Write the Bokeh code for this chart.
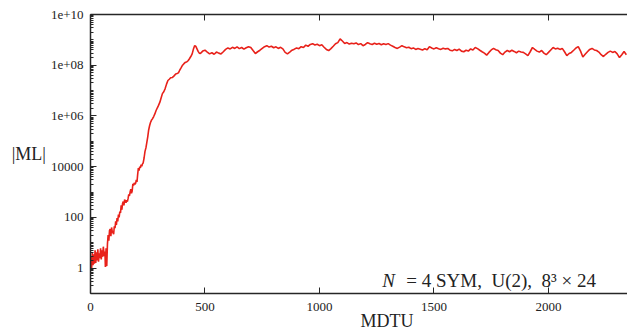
from bokeh.plotting import figure
from bokeh.models import Range1d, FixedTicker, LinearAxis, Label, Title
from bokeh.embed import file_html
from bokeh.resources import INLINE

# ---- data ----
early_mdtu = [
    0, 3, 5, 8, 11, 14, 17, 20, 23, 26,
    29, 32, 35, 38, 41, 44, 47, 50, 53, 56,
    60, 63, 65, 68, 71, 74, 77, 80, 83, 86,
    89, 92, 95, 98, 101, 104, 107, 110, 113, 116,
    119, 122, 125, 128, 131, 134, 137, 140, 143, 146,
    149, 152, 155, 158, 161, 164, 167, 170, 173, 176,
    179, 182, 185, 188, 191, 194, 197, 200, 203, 206,
    209, 212, 215, 218, 221, 224, 227, 230, 234, 238,
    242, 246, 250, 254, 258, 262, 267, 271, 276, 281,
    286, 292, 297, 303, 308, 314, 320, 326, 332, 338,
    344, 350, 358, 365, 372, 378, 384, 390, 396, 402,
    408, 414, 420, 426, 432, 438, 444, 450, 455, 460,
    465, 470, 475, 480,
]
early_ml = [
    0.8, 3.0, 1.0, 4.0, 1.3, 3.5, 1.5, 5.0, 1.6, 4.2,
    2.0, 5.5, 1.8, 3.8, 2.5, 6.0, 2.2, 5.0, 2.8, 7.0,
    3.0, 4.5, 1.1, 6.0, 1.2, 9.0, 20, 12, 30, 35,
    18, 40, 28, 25, 22, 45, 38, 70, 50, 95,
    70, 130, 100, 170, 150, 300, 200, 350, 420, 300,
    500, 450, 380, 480, 420, 550, 800, 700, 1000, 1300,
    900, 1100, 2100, 1800, 2300, 2000, 2200, 3000, 2500, 5000,
    8900, 7000, 1.0e4, 9000, 1.2e4, 1.05e4, 1.29e4, 1.4e4, 2.2e4, 4.0e4,
    5.5e4, 9.0e4, 1.5e5, 2.8e5, 4.1e5, 5.5e5, 7.0e5, 7.8e5, 9.5e5, 1.2e6,
    1.6e6, 2.1e6, 2.6e6, 3.5e6, 5.0e6, 7.6e6, 9.0e6, 1.2e7, 1.8e7, 2.5e7,
    2.8e7, 3.2e7, 3.3e7, 3.8e7, 4.5e7, 4.7e7, 5.0e7, 6.5e7, 8.0e7, 1.0e8,
    1.15e8, 1.3e8, 1.35e8, 1.5e8, 1.8e8, 2.2e8, 2.8e8, 4.5e8, 6.0e8, 5.5e8,
    4.4e8, 3.5e8, 3.0e8, 2.9e8,
]

plateau_mdtu = list(range(490, 2341, 10))
plateau_ml = [
    3.6e8, 3.9e8, 3.3e8, 2.8e8, 3.1e8, 2.7e8, 3.3e8, 3.0e8, 2.8e8, 3.4e8,
    4.2e8, 4.8e8, 4.4e8, 5.1e8, 4.6e8, 5.3e8, 4.5e8, 5.0e8, 4.3e8, 4.9e8,
    5.4e8, 5.0e8, 3.8e8, 2.9e8, 3.4e8, 3.9e8, 4.6e8, 5.4e8, 5.9e8, 5.2e8,
    5.6e8, 4.9e8, 5.3e8, 4.6e8, 5.1e8, 4.4e8, 3.2e8, 2.8e8, 3.3e8, 3.9e8,
    4.3e8, 4.8e8, 4.5e8, 5.4e8, 5.0e8, 6.2e8, 5.6e8, 6.6e8, 7.1e8, 6.3e8,
    6.7e8, 5.9e8, 6.4e8, 5.1e8, 4.2e8, 3.8e8, 4.5e8, 5.6e8, 7.0e8, 7.8e8,
    1.1e9, 9.0e8, 7.2e8, 7.8e8, 6.8e8, 7.4e8, 7.0e8, 7.6e8, 6.5e8, 7.1e8,
    5.9e8, 6.6e8, 7.8e8, 7.0e8, 6.6e8, 7.4e8, 6.7e8, 7.2e8, 6.4e8, 7.0e8,
    6.5e8, 7.1e8, 6.2e8, 5.6e8, 5.0e8, 4.6e8, 5.2e8, 5.9e8, 5.3e8, 4.9e8,
    5.1e8, 4.5e8, 4.8e8, 4.2e8, 4.6e8, 4.3e8, 4.0e8, 4.5e8, 4.1e8, 5.4e8,
    4.8e8, 4.4e8, 4.9e8, 4.5e8, 4.2e8, 4.7e8, 4.4e8, 4.6e8, 3.9e8, 3.7e8,
    4.2e8, 3.8e8, 4.3e8, 3.6e8, 3.4e8, 3.9e8, 3.6e8, 4.4e8, 4.0e8, 5.0e8,
    4.5e8, 3.9e8, 3.4e8, 3.0e8, 2.5e8, 3.2e8, 4.0e8, 4.6e8, 4.1e8, 3.8e8,
    3.0e8, 2.6e8, 3.3e8, 3.8e8, 3.4e8, 3.9e8, 3.5e8, 3.1e8, 3.6e8, 3.3e8,
    3.2e8, 2.8e8, 2.4e8, 3.4e8, 5.0e8, 4.2e8, 3.6e8, 3.3e8, 3.8e8, 3.0e8,
    2.6e8, 3.2e8, 4.0e8, 5.0e8, 4.4e8, 4.7e8, 4.2e8, 4.6e8, 3.4e8, 2.4e8,
    2.9e8, 3.2e8, 3.9e8, 4.8e8, 5.4e8, 3.6e8, 2.1e8, 2.7e8, 3.4e8, 4.2e8,
    4.6e8, 4.0e8, 3.8e8, 3.3e8, 2.6e8, 2.2e8, 2.7e8, 3.2e8, 3.6e8, 3.2e8,
    3.5e8, 2.8e8, 2.0e8, 2.6e8, 3.5e8, 2.6e8,
]

x_ticks = [0, 500, 1000, 1500, 2000]
y_ticks = [1, 100, 10000, 1000000, 100000000, 10000000000]
y_tick_labels = {1: "1", 100: "100", 10000: "10000", 1000000: "1e+06",
                 100000000: "1e+08", 10000000000: "1e+10"}

mdtu = early_mdtu + plateau_mdtu
ml = early_ml + plateau_ml

FONT = "Liberation Serif"
AXC = "#262626"
TXC = "#222222"

p = figure(width=627, height=330, y_axis_type="log",
           x_range=Range1d(0, 2345), y_range=Range1d(0.1, 1e10),
           output_backend="svg", toolbar_location=None,
           min_border_left=90, min_border_right=0,
           min_border_top=14, min_border_bottom=0)
p.outline_line_color = None
p.grid.visible = False
p.background_fill_color = "white"
p.border_fill_color = "white"

p.line(mdtu, ml, line_color="#e8211a", line_width=1.6)

# y minor ticks
y_minor = []
for e in range(-1, 10):
    for k in range(1, 10):
        v = k * 10.0 ** e
        if v not in y_ticks and v <= 1e10:
            y_minor.append(v)

ya = p.yaxis[0]
ya.ticker = FixedTicker(ticks=y_ticks, minor_ticks=y_minor)
ya.major_label_overrides = y_tick_labels
ya.axis_label = "|ML|"
ya.axis_label_orientation = "horizontal"
ya.axis_label_text_font = FONT
ya.axis_label_text_font_style = "normal"
ya.axis_label_text_font_size = "18px"
ya.axis_label_text_color = TXC
ya.axis_label_standoff = 2

xa = p.xaxis[0]
xa.ticker = FixedTicker(ticks=x_ticks)

for ax in (xa, ya):
    ax.axis_line_color = AXC
    ax.axis_line_width = 1.5
    ax.major_tick_line_color = AXC
    ax.minor_tick_line_color = AXC
    ax.major_tick_in = 6
    ax.major_tick_out = 0
    ax.minor_tick_in = 3
    ax.minor_tick_out = 0
    ax.major_label_text_font = FONT
    ax.major_label_text_font_size = "13px"
    ax.major_label_text_color = TXC
xa.major_label_standoff = 9
ya.major_label_standoff = 7

top = LinearAxis(ticker=FixedTicker(ticks=x_ticks))
top.axis_line_color = AXC
top.axis_line_width = 1.5
top.major_tick_line_color = AXC
top.major_tick_in = 6
top.major_tick_out = 0
top.minor_tick_line_color = None
top.major_label_overrides = {t: "" for t in x_ticks}
top.major_label_standoff = 0
p.add_layout(top, "above")

# x axis title, placed like the original (gnuplot centering)
xt = Title(text="MDTU", align="left", offset=270, standoff=-5,
           text_font=FONT, text_font_size="18px", text_font_style="normal",
           vertical_align="top", text_color=TXC)
p.add_layout(xt, "below")

# annotation
p.add_layout(Label(x=1274, y=0.34, text="N", text_font=FONT,
                   text_font_style="italic", text_font_size="19px",
                   text_align="left", text_baseline="alphabetic",
                   text_color=TXC))
p.add_layout(Label(x=1379, y=0.34,
                   text="= 4 SYM,\u00a0\u00a0U(2),\u00a0\u00a08\u00b3\u00a0\u00d7\u00a024",
                   text_font=FONT, text_font_size="19px", text_align="left",
                   text_baseline="alphabetic", text_color=TXC))

open("out.html", "w").write(file_html(p, INLINE))
